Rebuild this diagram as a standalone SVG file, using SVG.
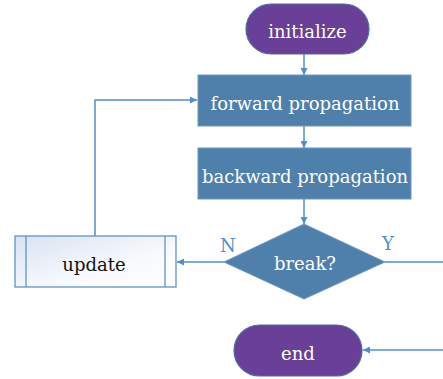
<svg xmlns="http://www.w3.org/2000/svg" width="443" height="379" viewBox="0 0 443 379">
  <style>
    .term { fill: #6a3f98; stroke: #4d6fa0; stroke-width: 1.2; }
    .proc { fill: #4f80ab; stroke: #6f97bd; stroke-width: 1; }
    .sub { fill: url(#subFill); stroke: #5f93c9; stroke-width: 1.3; }
    .lbl { font-family: "DejaVu Serif", "Liberation Serif", serif; font-size: 18px; text-anchor: middle; dominant-baseline: central; }
    .w { fill: #ffffff; }
    .k { fill: #111111; }
    .yn { font-family: "DejaVu Serif", "Liberation Serif", serif; font-size: 18px; fill: #4d8fd0; }
    .edge { fill: none; stroke: #4f8fcf; stroke-width: 1.5; }
  </style>
  <defs>
    <linearGradient id="subFill" x1="0" y1="0" x2="1" y2="1">
      <stop offset="0" stop-color="#d9e2f1"/>
      <stop offset="0.6" stop-color="#f7f9fd"/>
      <stop offset="1" stop-color="#ffffff"/>
    </linearGradient>
    <marker id="arr" viewBox="0 0 10 10" refX="10" refY="5" markerWidth="7" markerHeight="7" orient="auto" markerUnits="userSpaceOnUse">
      <path d="M0,0 L10,5 L0,10 z" fill="#4f8fcf"/>
    </marker>
  </defs>

  <g id="connectors">
    <line class="edge" x1="304" y1="54" x2="304" y2="75" marker-end="url(#arr)"/>
    <line class="edge" x1="304" y1="126" x2="304" y2="148" marker-end="url(#arr)"/>
    <line class="edge" x1="304" y1="199" x2="304" y2="224" marker-end="url(#arr)"/>
    <line class="edge" x1="224" y1="262" x2="177" y2="262" marker-end="url(#arr)"/>
    <polyline class="edge" points="95,236 95,100 197,100" marker-end="url(#arr)"/>
    <line class="edge" x1="385" y1="262" x2="443" y2="262"/>
    <line class="edge" x1="443" y1="350" x2="363" y2="350" marker-end="url(#arr)"/>
    <text class="yn" x="220" y="252">N</text>
    <text class="yn" x="382" y="250">Y</text>
  </g>

  <g id="initialize">
    <rect class="term" x="246" y="4" width="123" height="50" rx="25" ry="25"/>
    <text class="lbl w" x="307.5" y="31">initialize</text>
  </g>

  <g id="forward">
    <rect class="proc" x="198" y="75" width="213" height="51"/>
    <text class="lbl w" x="305" y="103">forward propagation</text>
  </g>

  <g id="backward">
    <rect class="proc" x="198" y="148" width="213" height="51"/>
    <text class="lbl w" x="305" y="176">backward propagation</text>
  </g>

  <g id="break">
    <polygon class="proc" points="304,224 385,262 304,299 224,262"/>
    <text class="lbl w" x="305" y="263">break?</text>
  </g>

  <g id="update">
    <rect class="sub" x="15" y="236" width="161" height="51"/>
    <line x1="26" y1="236" x2="26" y2="287" stroke="#5f93c9" stroke-width="1.3"/>
    <line x1="165" y1="236" x2="165" y2="287" stroke="#5f93c9" stroke-width="1.3"/>
    <text class="lbl k" x="94" y="264">update</text>
  </g>

  <g id="end">
    <rect class="term" x="234" y="325" width="128" height="51" rx="25.5" ry="25.5"/>
    <text class="lbl w" x="298" y="353">end</text>
  </g>
</svg>
